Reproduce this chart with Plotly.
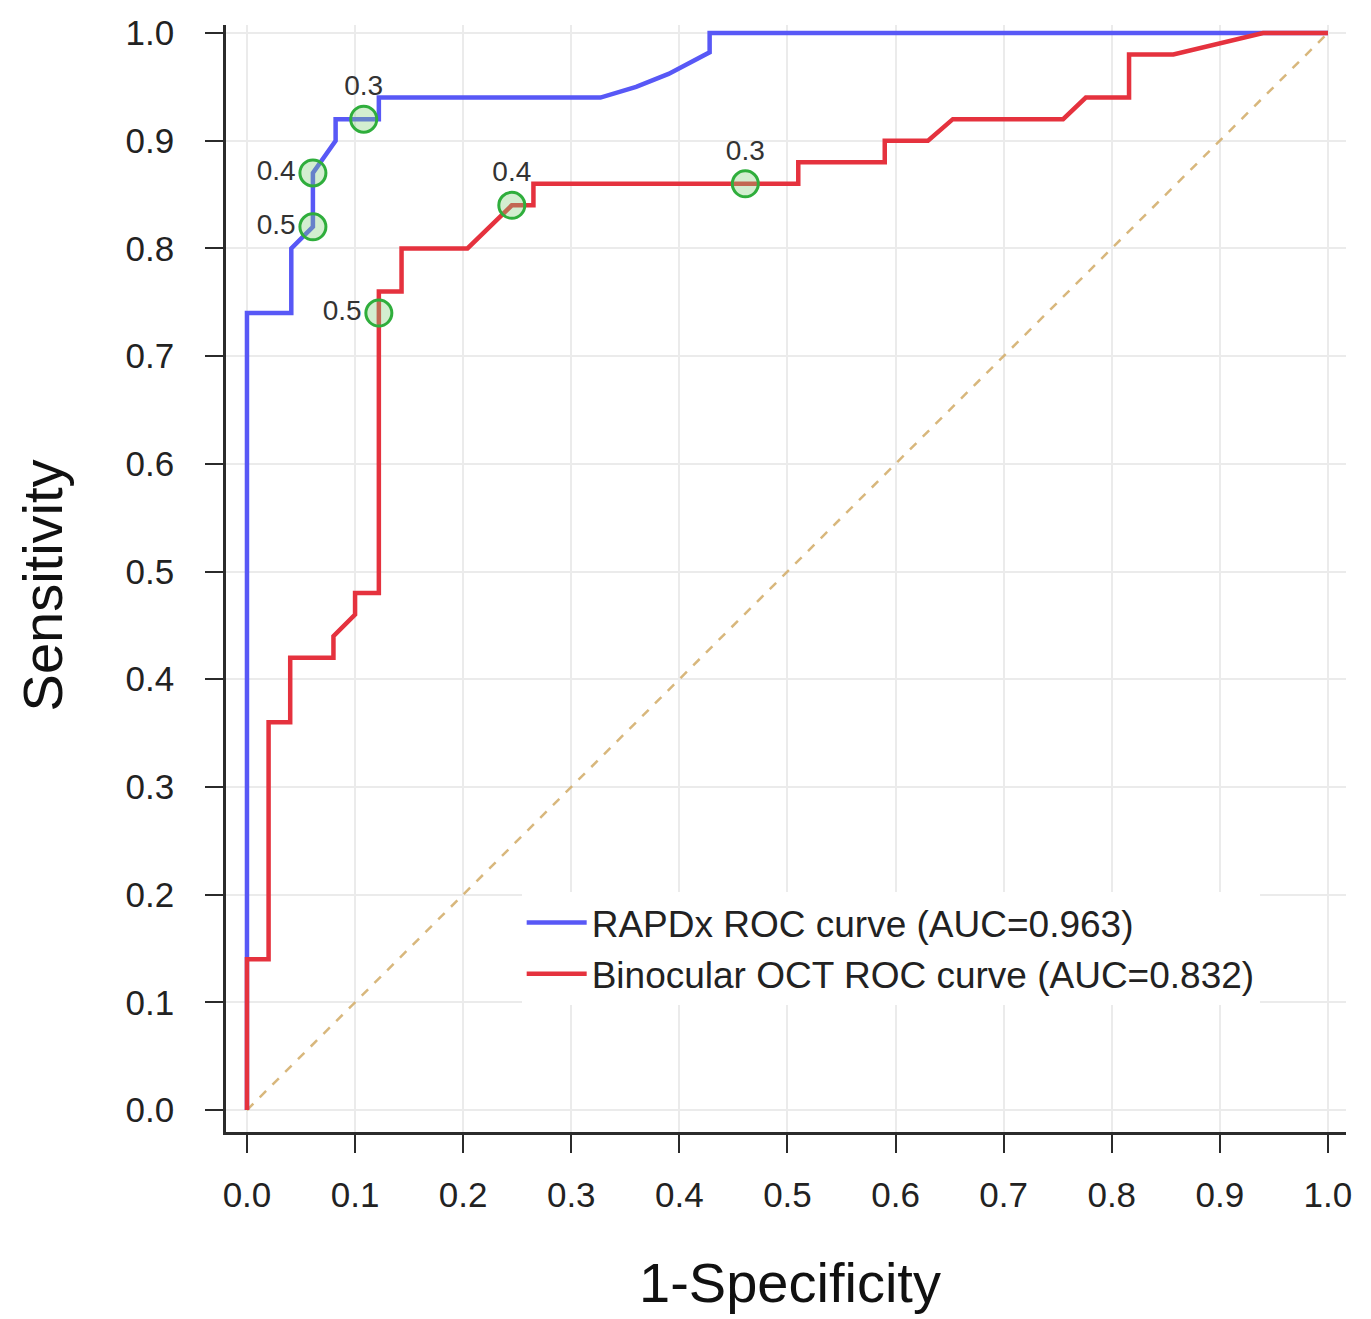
import plotly.graph_objects as go

# ROC curve coordinates (1-specificity, sensitivity)
rapdx_fpr = [0, 0, 0.041, 0.041, 0.061, 0.061, 0.082, 0.082, 0.122, 0.122,
             0.327, 0.36, 0.39, 0.41, 0.428, 0.428, 1.0]
rapdx_tpr = [0, 0.74, 0.74, 0.80, 0.82, 0.87, 0.90, 0.92, 0.92, 0.94,
             0.94, 0.95, 0.962, 0.972, 0.982, 1.0, 1.0]

oct_fpr = [0, 0, 0.02, 0.02, 0.04, 0.04, 0.08, 0.08, 0.10, 0.10, 0.122, 0.122,
           0.143, 0.143, 0.204, 0.245, 0.265, 0.265, 0.51, 0.51, 0.59, 0.59,
           0.63, 0.653, 0.755, 0.776, 0.816, 0.816, 0.857, 0.94, 1.0]
oct_tpr = [0, 0.14, 0.14, 0.36, 0.36, 0.42, 0.42, 0.44, 0.46, 0.48, 0.48, 0.76,
           0.76, 0.80, 0.80, 0.84, 0.84, 0.86, 0.86, 0.88, 0.88, 0.90,
           0.90, 0.92, 0.92, 0.94, 0.94, 0.98, 0.98, 1.0, 1.0]

# Operating points at selected cut-off thresholds
rapdx_cut_fpr = [0.108, 0.061, 0.061]
rapdx_cut_tpr = [0.92, 0.87, 0.82]
rapdx_cut_labels = ["0.3", "0.4", "0.5"]

oct_cut_fpr = [0.461, 0.245, 0.122]
oct_cut_tpr = [0.86, 0.84, 0.74]
oct_cut_labels = ["0.3", "0.4", "0.5"]

ref_line = [0, 1]
tick_vals = [0.0, 0.1, 0.2, 0.3, 0.4, 0.5, 0.6, 0.7, 0.8, 0.9, 1.0]
tick_text = ["0.0", "0.1", "0.2", "0.3", "0.4", "0.5", "0.6", "0.7", "0.8", "0.9", "1.0"]

legend_names = ["RAPDx ROC curve (AUC=0.963)", "Binocular OCT ROC curve (AUC=0.832)"]

BLUE = "#5858f6"
RED = "#e5323e"
FONT = "Liberation Sans, Arial, Helvetica, sans-serif"

fig = go.Figure()

# chance diagonal
fig.add_trace(go.Scatter(
    x=ref_line, y=ref_line, mode="lines",
    line=dict(color="rgba(212,175,110,0.9)", width=2.5, dash="dash"),
    showlegend=False, hoverinfo="skip"))

fig.add_trace(go.Scatter(
    x=rapdx_fpr, y=rapdx_tpr, mode="lines", name=legend_names[0],
    line=dict(color=BLUE, width=4.5)))

fig.add_trace(go.Scatter(
    x=oct_fpr, y=oct_tpr, mode="lines", name=legend_names[1],
    line=dict(color=RED, width=4.5)))

marker_style = dict(symbol="circle", size=26, color="rgba(130,205,120,0.35)",
                    line=dict(color="#2fae3c", width=3))
label_font = dict(family=FONT, size=28, color="#333333")

fig.add_trace(go.Scatter(
    x=rapdx_cut_fpr, y=rapdx_cut_tpr, mode="markers+text",
    text=rapdx_cut_labels,
    textposition=["top center", "middle left", "middle left"],
    textfont=label_font, marker=marker_style, showlegend=False))

fig.add_trace(go.Scatter(
    x=oct_cut_fpr, y=oct_cut_tpr, mode="markers+text",
    text=oct_cut_labels,
    textposition=["top center", "top center", "middle left"],
    textfont=label_font, marker=marker_style, showlegend=False))

axis_common = dict(
    showline=True, linecolor="#2b2b2b", linewidth=2.5,
    ticks="outside", ticklen=18, tickwidth=2, tickcolor="#2b2b2b",
    showgrid=True, gridcolor="#ebebeb", gridwidth=2,
    zeroline=False, tickvals=tick_vals, ticktext=tick_text,
    tickfont=dict(family=FONT, size=35, color="#222222"),
)

fig.update_layout(
    width=1371, height=1319,
    margin=dict(l=226, r=25, t=25, b=187, autoexpand=False),
    paper_bgcolor="white", plot_bgcolor="white",
    font=dict(family=FONT, color="#222222"),
    xaxis=dict(range=[-0.0194, 1.0167], ticklabelstandoff=12, **axis_common),
    yaxis=dict(range=[-0.0204, 1.0074], ticklabelstandoff=24, **axis_common),
    legend=dict(
        x=0.264, y=0.2168, xanchor="left", yanchor="top",
        bgcolor="white", borderwidth=0,
        font=dict(family=FONT, size=37, color="#222222"),
        itemwidth=60,
    ),
    annotations=[
        dict(text="Sensitivity", textangle=-90, xref="paper", yref="paper",
             x=-0.164, y=0.494, xanchor="center", yanchor="middle",
             showarrow=False, font=dict(family=FONT, size=56, color="#111111")),
        dict(text="1-Specificity", xref="paper", yref="paper",
             x=0.5036, y=-0.136, xanchor="center", yanchor="middle",
             showarrow=False, font=dict(family=FONT, size=56, color="#111111")),
    ],
)

fig.write_html("out.html")
